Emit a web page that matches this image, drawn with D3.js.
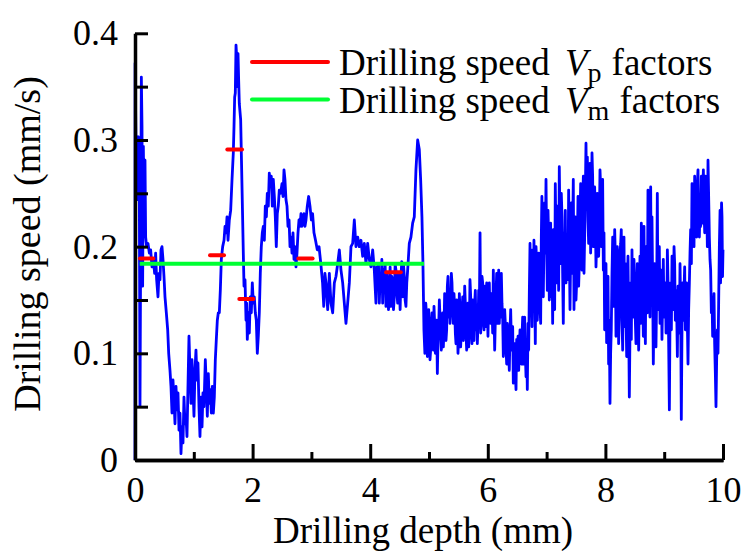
<!DOCTYPE html>
<html>
<head>
<meta charset="utf-8">
<script src="https://cdn.jsdelivr.net/npm/d3@7"></script>
<style>
  html, body { margin: 0; padding: 0; background: #fff; }
  svg text { font-family: "Liberation Serif", "Times New Roman", serif; fill: #000; }
</style>
</head>
<body>
<svg id="chart" width="743" height="551"></svg>
<script>
// Drilling speed record: [depth (mm), speed (mm/s)]
const speedTrace = [
  [0,0],[0.002,0.372],[0.017,0.294],[0.04,0.244],[0.057,0.303],[0.074,0.25],[0.085,0.05],[0.096,0.194],
  [0.108,0.359],[0.119,0.313],[0.13,0.163],[0.142,0.294],[0.153,0.238],[0.17,0.281],[0.181,0.209],[0.198,0.2],
  [0.221,0.203],[0.244,0.194],[0.266,0.197],[0.289,0.181],[0.312,0.188],[0.334,0.175],[0.351,0.194],[0.368,0.169],
  [0.391,0.153],[0.408,0.175],[0.425,0.169],[0.442,0.197],[0.459,0.2],[0.476,0.188],[0.493,0.172],[0.51,0.153],
  [0.533,0.138],[0.556,0.122],[0.573,0.1],[0.595,0.084],[0.612,0.069],[0.629,0.044],[0.646,0.075],[0.663,0.056],
  [0.68,0.034],[0.697,0.069],[0.714,0.047],[0.731,0.063],[0.748,0.028],[0.765,0.044],[0.782,0.006],[0.799,0.031],
  [0.816,0.016],[0.833,0.059],[0.85,0.034],[0.867,0.041],[0.884,0.022],[0.901,0.069],[0.918,0.116],[0.935,0.084],
  [0.952,0.053],[0.969,0.094],[0.986,0.069],[1.003,0.041],[1.02,0.084],[1.037,0.103],[1.054,0.075],[1.071,0.091],
  [1.088,0.05],[1.105,0.022],[1.122,0.059],[1.14,0.031],[1.156,0.063],[1.173,0.05],[1.196,0.094],[1.213,0.069],
  [1.23,0.041],[1.247,0.081],[1.264,0.053],[1.281,0.066],[1.298,0.044],[1.315,0.069],[1.332,0.044],[1.349,0.059],
  [1.366,0.094],[1.383,0.113],[1.4,0.131],[1.417,0.138],[1.434,0.138],[1.451,0.159],[1.468,0.188],[1.491,0.2],
  [1.514,0.206],[1.531,0.219],[1.548,0.213],[1.565,0.228],[1.582,0.206],[1.604,0.225],[1.627,0.234],[1.65,0.263],
  [1.672,0.288],[1.684,0.313],[1.695,0.34],[1.706,0.344],[1.718,0.389],[1.729,0.378],[1.74,0.35],[1.752,0.381],
  [1.763,0.356],[1.774,0.334],[1.797,0.319],[1.814,0.272],[1.831,0.225],[1.842,0.194],[1.854,0.163],[1.871,0.169],
  [1.888,0.131],[1.899,0.147],[1.91,0.113],[1.927,0.138],[1.944,0.119],[1.961,0.153],[1.978,0.138],[1.995,0.166],
  [2.012,0.147],[2.029,0.153],[2.046,0.138],[2.063,0.131],[2.08,0.1],[2.097,0.116],[2.114,0.138],[2.131,0.175],
  [2.148,0.2],[2.165,0.213],[2.182,0.219],[2.2,0.206],[2.216,0.238],[2.234,0.228],[2.25,0.25],[2.267,0.238],
  [2.284,0.269],[2.301,0.256],[2.318,0.266],[2.335,0.238],[2.352,0.263],[2.37,0.247],[2.386,0.228],[2.403,0.2],
  [2.42,0.231],[2.437,0.238],[2.454,0.253],[2.477,0.25],[2.5,0.259],[2.517,0.247],[2.534,0.272],[2.55,0.263],
  [2.568,0.244],[2.585,0.238],[2.602,0.219],[2.62,0.225],[2.636,0.2],[2.653,0.209],[2.67,0.194],[2.687,0.213],
  [2.704,0.188],[2.721,0.2],[2.738,0.181],[2.755,0.194],[2.772,0.213],[2.789,0.225],[2.806,0.219],[2.823,0.231],
  [2.84,0.219],[2.857,0.225],[2.874,0.231],[2.891,0.219],[2.908,0.225],[2.93,0.238],[2.953,0.247],[2.976,0.238],
  [2.999,0.225],[3.02,0.231],[3.044,0.213],[3.07,0.206],[3.1,0.197],[3.13,0.2],[3.16,0.184],[3.19,0.166],
  [3.21,0.144],[3.23,0.175],
  [3.248,0.166],[3.277,0.141],[3.305,0.175],[3.333,0.147],[3.362,0.138],[3.39,0.166],[3.418,0.172],[3.447,0.184],
  [3.475,0.197],[3.503,0.178],[3.532,0.166],[3.56,0.147],[3.588,0.128],[3.617,0.147],[3.645,0.166],[3.673,0.2],
  [3.702,0.203],[3.73,0.225],[3.758,0.2],[3.787,0.209],[3.815,0.2],[3.843,0.206],[3.872,0.191],[3.9,0.203],
  [3.928,0.184],[3.957,0.203],[3.985,0.188],[4.013,0.181],[4.042,0.197],[4.07,0.178],
  [4.098,0.147],[4.112,0.181],[4.127,0.166],[4.141,0.184],[4.155,0.147],[4.169,0.172],[4.183,0.159],[4.198,0.188],
  [4.212,0.147],[4.226,0.178],[4.24,0.166],[4.254,0.184],[4.268,0.144],[4.283,0.175],[4.297,0.166],[4.311,0.141],
  [4.325,0.153],[4.339,0.181],[4.353,0.144],[4.368,0.172],[4.382,0.166],[4.396,0.141],[4.41,0.153],[4.424,0.184],
  [4.438,0.178],[4.452,0.159],[4.467,0.147],[4.481,0.175],[4.495,0.166],[4.509,0.141],[4.523,0.172],[4.537,0.186],
  [4.552,0.153],[4.566,0.184],[4.58,0.172],[4.594,0.15],[4.608,0.144],[4.622,0.166],[4.637,0.178],
  [4.665,0.203],[4.693,0.209],[4.722,0.222],[4.75,0.228],[4.778,0.272],[4.807,0.3],[4.835,0.291],[4.858,0.263],
  [4.88,0.228],[4.897,0.184],[4.914,0.122],
  [4.93,0.1],[4.945,0.147],[4.96,0.134],[4.972,0.097],[4.983,0.109],[4.995,0.141],[5.006,0.122],[5.017,0.094],
  [5.028,0.103],[5.04,0.125],[5.051,0.138],[5.062,0.116],[5.074,0.103],[5.085,0.144],[5.096,0.128],[5.108,0.1],
  [5.119,0.109],[5.13,0.131],[5.142,0.081],[5.153,0.112],[5.164,0.122],[5.176,0.15],[5.187,0.134],[5.198,0.116],
  [5.21,0.103],[5.221,0.128],[5.232,0.138],[5.244,0.106],[5.255,0.122],[5.266,0.156],[5.278,0.141],[5.289,0.112],
  [5.3,0.122],[5.312,0.163],[5.323,0.172],[5.334,0.134],[5.346,0.159],[5.357,0.128],[5.368,0.147],[5.38,0.175],
  [5.391,0.166],[5.402,0.141],[5.414,0.128],[5.425,0.156],[5.437,0.141],[5.448,0.119],[5.459,0.109],[5.47,0.15],
  [5.482,0.134],[5.493,0.1],[5.505,0.116],[5.516,0.156],[5.527,0.141],[5.538,0.106],[5.55,0.122],[5.561,0.138],
  [5.573,0.153],[5.584,0.112],[5.595,0.128],[5.607,0.163],[5.618,0.147],[5.629,0.119],[5.641,0.103],[5.652,0.138],
  [5.663,0.147],[5.675,0.106],[5.686,0.122],[5.697,0.169],[5.709,0.153],[5.72,0.125],[5.731,0.109],[5.743,0.15],
  [5.754,0.134],[5.765,0.112],[5.777,0.147],[5.788,0.159],[5.8,0.122],[5.811,0.141],[5.822,0.109],[5.834,0.128],
  [5.845,0.159],[5.856,0.138],[5.868,0.213],[5.879,0.119],[5.89,0.134],[5.902,0.172],[5.913,0.166],[5.924,0.131],
  [5.936,0.122],[5.947,0.163],[5.958,0.153],[5.97,0.125],[5.981,0.166],[5.992,0.141],[6.003,0.116],[6.015,0.153],
  [6.026,0.166],[6.037,0.134],[6.049,0.128],[6.06,0.156],[6.071,0.147],[6.083,0.119],[6.094,0.178],[6.105,0.141],
  [6.117,0.103],[6.128,0.131],[6.139,0.153],[6.151,0.175],[6.162,0.128],[6.173,0.144],[6.185,0.178],[6.196,0.128],
  [6.207,0.153],[6.219,0.134],[6.23,0.175],[6.241,0.147],[6.253,0.134],[6.264,0.097],[6.275,0.109],[6.287,0.141],
  [6.298,0.128],[6.309,0.106],[6.321,0.09],[6.332,0.128],[6.343,0.116],[6.355,0.1],[6.366,0.084],[6.377,0.119],
  [6.389,0.141],[6.4,0.112],[6.411,0.103],[6.423,0.125],[6.434,0.072],[6.445,0.094],[6.457,0.109],[6.468,0.081],
  [6.48,0.066],[6.491,0.113],[6.502,0.097],[6.514,0.116],[6.525,0.084],[6.536,0.103],[6.548,0.122],[6.559,0.1],
  [6.57,0.09],[6.582,0.116],[6.593,0.134],
  [6.604,0.09],[6.615,0.122],[6.627,0.134],[6.638,0.1],[6.65,0.078],[6.661,0.109],[6.672,0.066],[6.684,0.128],
  [6.695,0.103],[6.706,0.156],[6.718,0.203],[6.729,0.141],[6.74,0.166],[6.752,0.125],[6.763,0.197],[6.774,0.15],
  [6.785,0.206],[6.797,0.163],[6.808,0.109],[6.82,0.2],[6.831,0.184],[6.842,0.131],[6.853,0.153],[6.865,0.194],
  [6.876,0.172],[6.888,0.144],[6.899,0.128],[6.91,0.209],[6.92,0.247],[6.932,0.178],[6.944,0.153],[6.955,0.203],
  [6.967,0.241],[6.978,0.194],[6.99,0.263],[7.001,0.2],[7.012,0.159],[7.024,0.234],[7.035,0.209],[7.046,0.15],
  [7.058,0.178],[7.069,0.222],[7.08,0.153],[7.092,0.191],[7.103,0.128],[7.115,0.216],[7.126,0.184],[7.137,0.141],
  [7.148,0.259],[7.16,0.2],[7.171,0.166],[7.182,0.238],[7.194,0.203],[7.205,0.159],[7.216,0.275],[7.228,0.219],
  [7.239,0.184],[7.25,0.25],[7.262,0.228],[7.273,0.175],[7.284,0.128],[7.296,0.213],[7.307,0.184],[7.318,0.234],
  [7.33,0.166],[7.341,0.197],[7.352,0.209],[7.364,0.169],[7.375,0.253],[7.386,0.2],[7.398,0.141],[7.409,0.194],
  [7.42,0.241],[7.432,0.175],[7.443,0.216],[7.454,0.263],[7.466,0.141],[7.477,0.188],[7.489,0.228],[7.5,0.15],
  [7.511,0.166],[7.523,0.2],[7.534,0.247],[7.545,0.163],[7.557,0.184],[7.568,0.222],[7.579,0.259],[7.591,0.197],
  [7.602,0.178],[7.613,0.238],[7.625,0.266],[7.636,0.175],[7.647,0.209],[7.659,0.25],[7.67,0.297],[7.681,0.244],
  [7.693,0.284],[7.704,0.225],[7.715,0.203],[7.727,0.256],[7.738,0.278],[7.749,0.194],[7.761,0.228],[7.772,0.288],
  [7.783,0.266],[7.795,0.2],[7.806,0.209],[7.817,0.256],[7.829,0.228],[7.84,0.181],[7.851,0.203],[7.863,0.25],
  [7.874,0.241],[7.885,0.191],[7.897,0.222],[7.908,0.272],[7.919,0.256],[7.931,0.2],[7.942,0.234],[7.953,0.263],
  [7.965,0.178],[7.976,0.213],[7.987,0.122],[7.999,0.159],[8.01,0.184],[8.021,0.11],[8.032,0.134],[8.044,0.172],
  [8.055,0.09],[8.066,0.131],[8.078,0.053],[8.089,0.1],[8.1,0.122],[8.112,0.175],[8.124,0.209],[8.135,0.144],
  [8.146,0.166],[8.158,0.216],[8.169,0.191],[8.18,0.116],[8.19,0.134],[8.202,0.2],[8.214,0.184],[8.225,0.109],
  [8.237,0.141],[8.248,0.194],[8.26,0.203],
  [8.27,0.216],[8.282,0.131],[8.294,0.103],[8.305,0.159],[8.316,0.209],[8.328,0.125],[8.339,0.184],[8.35,0.141],
  [8.362,0.097],[8.373,0.15],[8.384,0.191],[8.396,0.128],[8.407,0.059],[8.418,0.119],[8.43,0.166],[8.441,0.113],
  [8.452,0.197],[8.464,0.144],[8.475,0.134],[8.486,0.188],[8.498,0.166],[8.509,0.131],[8.52,0.109],[8.532,0.147],
  [8.543,0.184],[8.554,0.138],[8.566,0.103],[8.577,0.153],[8.588,0.191],[8.6,0.128],[8.611,0.222],[8.622,0.178],
  [8.634,0.153],[8.645,0.116],[8.656,0.219],[8.668,0.141],[8.68,0.109],[8.691,0.2],[8.702,0.178],[8.713,0.138],
  [8.724,0.253],[8.736,0.147],[8.747,0.184],[8.758,0.134],[8.77,0.256],[8.781,0.147],[8.792,0.228],[8.804,0.163],
  [8.815,0.09],[8.826,0.141],[8.838,0.184],[8.849,0.131],[8.86,0.106],[8.872,0.156],[8.883,0.25],[8.894,0.141],
  [8.906,0.166],[8.917,0.2],[8.929,0.128],[8.94,0.159],[8.95,0.178],[8.962,0.113],[8.974,0.153],[8.985,0.188],
  [8.997,0.134],[9.008,0.153],[9.02,0.166],[9.031,0.119],[9.042,0.128],[9.054,0.197],[9.065,0.166],[9.076,0.109],
  [9.088,0.047],[9.099,0.134],[9.11,0.166],[9.122,0.122],[9.133,0.191],[9.144,0.15],[9.156,0.141],[9.167,0.2],
  [9.178,0.184],[9.189,0.131],[9.2,0.159],[9.212,0.141],[9.224,0.097],[9.235,0.163],[9.246,0.141],[9.258,0.119],
  [9.269,0.184],[9.28,0.141],[9.291,0.038],[9.303,0.125],[9.314,0.166],[9.325,0.131],[9.337,0.159],[9.348,0.181],
  [9.36,0.122],[9.371,0.144],[9.382,0.166],[9.394,0.128],[9.405,0.09],[9.416,0.141],[9.428,0.166],[9.439,0.194],
  [9.45,0.216],[9.462,0.184],[9.473,0.259],[9.484,0.213],[9.496,0.234],[9.507,0.2],[9.518,0.266],[9.529,0.219],
  [9.54,0.241],[9.552,0.209],[9.564,0.259],[9.575,0.272],[9.586,0.228],[9.598,0.209],[9.61,0.241],[9.621,0.219],
  [9.632,0.266],[9.644,0.222],[9.655,0.247],[9.666,0.272],[9.677,0.234],[9.689,0.213],[9.7,0.266],[9.712,0.228],
  [9.723,0.241],[9.734,0.2],[9.745,0.281],[9.757,0.244],[9.768,0.209],[9.779,0.188],[9.79,0.178],[9.802,0.138],
  [9.813,0.153],[9.824,0.116],[9.836,0.128],[9.847,0.156],[9.858,0.109],[9.87,0.081],[9.881,0.05],[9.892,0.094],
  [9.904,0.122],[9.915,0.1],[9.926,0.147],[9.938,0.2],[9.95,0.234],[9.958,0.166],[9.966,0.184],[9.975,0.241],
  [9.983,0.228],[9.992,0.172],[10.0,0.197]
];

// Vp factors: one horizontal segment per depth interval
const vpStart = [0.085, 1.276, 1.57, 1.774, 2.778, 4.27];
const vpEnd   = [0.312, 1.514, 1.82, 2.012, 3.02, 4.52];
const vpValue = [0.189, 0.192, 0.291, 0.151, 0.189, 0.176];

// Vm factor: a single mean level over the first part of the hole
const vmStart = 0.08;
const vmEnd = 4.915;
const vmValue = 0.184;

const xMajorTicks = [0, 2, 4, 6, 8, 10];
const xMinorTicks = [1, 3, 5, 7, 9];
const yTicks = [0, 0.05, 0.1, 0.15, 0.2, 0.25, 0.3, 0.35, 0.4];
const yTickLabels = ["0", "", "0.1", "", "0.2", "", "0.3", "", "0.4"];

const svg = d3.select("#chart");
const x = d3.scaleLinear().domain([0, 10]).range([135, 723]);
const y = d3.scaleLinear().domain([0, 0.4]).range([460, 33.3]);

const fontSize = 36;

// speed trace
svg.append("path")
  .datum(speedTrace)
  .attr("fill", "none")
  .attr("stroke", "#0000ff")
  .attr("stroke-width", 2.8)
  .attr("stroke-linejoin", "round")
  .attr("d", d3.line().x(d => x(d[0])).y(d => y(d[1])));

// Vm mean level
svg.append("line")
  .attr("x1", x(vmStart)).attr("x2", x(vmEnd))
  .attr("y1", y(vmValue)).attr("y2", y(vmValue))
  .attr("stroke", "#00ff33").attr("stroke-width", 4);

// Vp segments
svg.selectAll("line.vp")
  .data(vpValue)
  .join("line")
  .attr("class", "vp")
  .attr("x1", (d, i) => x(vpStart[i]))
  .attr("x2", (d, i) => x(vpEnd[i]))
  .attr("y1", d => y(d)).attr("y2", d => y(d))
  .attr("stroke", "#ff0000").attr("stroke-width", 4)
  .attr("stroke-linecap", "round");

// axes
function styleAxis(g) {
  g.select(".domain").attr("stroke", "#000").attr("stroke-width", 3.5);
  g.selectAll(".tick line").attr("stroke", "#000").attr("stroke-width", 3);
  g.selectAll(".tick text").attr("font-size", fontSize)
    .attr("font-family", "'Liberation Serif', 'Times New Roman', serif");
}

svg.append("g")
  .attr("transform", `translate(0,${y(0)})`)
  .call(d3.axisBottom(x).tickValues(xMinorTicks).tickSize(-8).tickSizeOuter(0).tickFormat(""))
  .call(styleAxis);

svg.append("g")
  .attr("transform", `translate(0,${y(0)})`)
  .call(d3.axisBottom(x).tickValues(xMajorTicks).tickSize(-16).tickSizeOuter(0).tickPadding(16).tickFormat(d3.format("d")))
  .call(styleAxis);

svg.append("g")
  .attr("transform", `translate(${x(0)},0)`)
  .call(d3.axisLeft(y).tickValues(yTicks).tickSize(-13).tickSizeOuter(0).tickPadding(17)
    .tickFormat((d, i) => yTickLabels[i]))
  .call(styleAxis);

// axis titles
svg.append("text")
  .attr("x", 423).attr("y", 543)
  .attr("text-anchor", "middle")
  .attr("font-size", 37)
  .text("Drilling depth (mm)");

svg.append("text")
  .attr("transform", "translate(40,244) rotate(-90)")
  .attr("text-anchor", "middle")
  .attr("font-size", 38)
  .text("Drilling speed (mm/s)");

// legend
const legend = [
  { color: "#ff0000", sub: "p", lineY: 62, base: 75 },
  { color: "#00ff33", sub: "m", lineY: 99.5, base: 113 }
];
legend.forEach(l => {
  svg.append("line")
    .attr("x1", 252).attr("x2", 328)
    .attr("y1", l.lineY).attr("y2", l.lineY)
    .attr("stroke", l.color).attr("stroke-width", 4)
    .attr("stroke-linecap", "round");
  const t = svg.append("text").attr("y", l.base).attr("font-size", 37);
  t.append("tspan").attr("x", 339).text("Drilling speed");
  t.append("tspan").attr("x", 565).attr("font-style", "italic").text("V");
  t.append("tspan").attr("dx", 0).attr("dy", 7).attr("font-size", 28).text(l.sub);
  t.append("tspan").attr("dx", 10).attr("dy", -7).text("factors");
});
</script>
</body>
</html>
